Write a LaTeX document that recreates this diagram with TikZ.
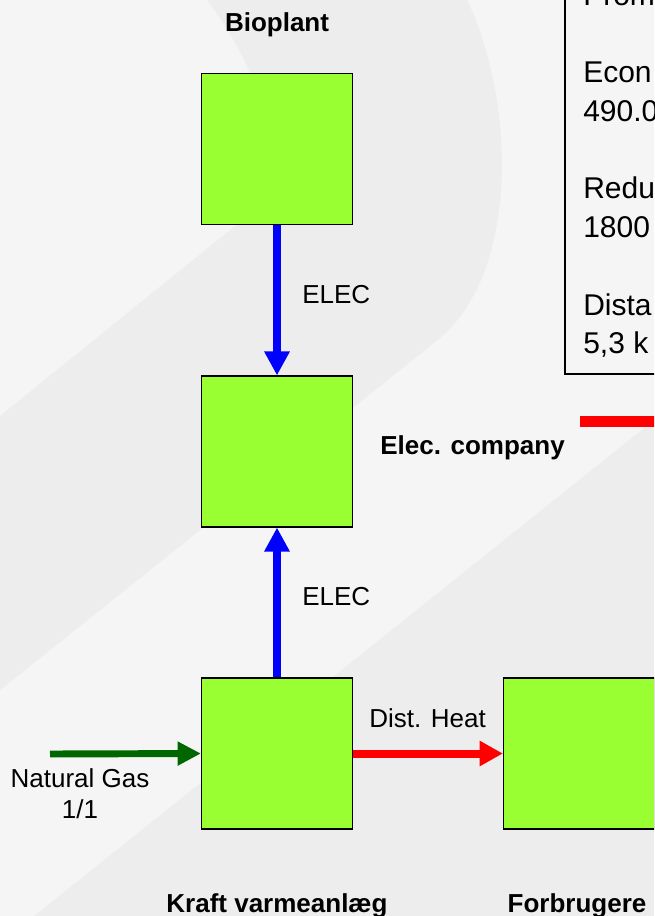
\documentclass[tikz,border=0pt]{standalone}
\usepackage{fontspec}
\setmainfont{Liberation Sans}
\usetikzlibrary{arrows.meta}
\definecolor{bgbase}{HTML}{F5F5F5}
\definecolor{bgdark}{HTML}{EDEDED}
\definecolor{boxgreen}{HTML}{99FF33}
\definecolor{gasgreen}{HTML}{006600}
\begin{document}
\begin{tikzpicture}[x=0.75pt,y=-0.75pt,
  plant/.style={draw=black, line width=1.1pt, fill=boxgreen, minimum width=113pt, minimum height=113pt, inner sep=0pt},
  lbl/.style={font=\fontsize{19.5}{23}\selectfont, inner sep=0pt},
  blbl/.style={font=\fontsize{19.5}{23}\selectfont\bfseries, inner sep=0pt},
  infotxt/.style={font=\fontsize{22.5}{27}\selectfont, inner sep=0pt, anchor=base west},
  bluearrow/.style={draw=blue, line width=6.4pt, -{Triangle[length=18pt,width=18pt]}},
  redarrow/.style={draw=red, line width=6pt, -{Triangle[length=17.5pt,width=18pt]}},
  gasarrow/.style={draw=gasgreen, line width=5.2pt, -{Triangle[length=17.5pt,width=17pt]}},
  redline/.style={draw=red, line width=8.5pt}
]
\useasboundingbox (0,0) rectangle (654,916);
\clip (0,0) rectangle (654,916);
% background
\fill[bgbase] (0,0) rectangle (654,916);
\fill[bgdark] (207,0) .. controls (245,50) and (300,150) .. (240,222) -- (0,416) -- (0,690) -- (440,338) .. controls (520,270) and (515,100) .. (467,0) -- cycle;
\fill[bgdark] (654,420) -- (34,916) -- (654,916) -- cycle;

% info box
\node (infobox) [draw=black, line width=1.5pt, anchor=south west, minimum width=90pt, minimum height=300pt, inner sep=0pt] at (564,375) {};
\node (t0) [infotxt] at (583,6) {Prom};
\node (t1) [infotxt] at (583,83) {Econ};
\node (t2) [infotxt] at (583,122) {490.0};
\node (t3) [infotxt] at (583,199) {Redu};
\node (t4) [infotxt] at (583,238) {1800};
\node (t5) [infotxt] at (583,315) {Dista};
\node (t6) [infotxt] at (583,353) {5,3 k};

% red line
\coordinate (rl0) at (580,421.5);
\coordinate (rl1) at (670,421.5);
\draw[redline] (rl0) -- (rl1);

% boxes
\node (bio) [plant] at (277,149) {};
\node (elec) [plant] at (277,451.5) {};
\node (kraft) [plant] at (277,753.5) {};
\node (forb) [plant] at (579,753.5) {};

% connectors
\draw[bluearrow] (bio.south) -- (elec.north);
\draw[bluearrow] (kraft.north) -- (elec.south);
\draw[redarrow] (kraft.east) -- (forb.west);
\coordinate (gasin) at (50,754);
\draw[gasarrow] (gasin) -- (kraft.west);

% labels
\node (lbio) [blbl, anchor=base] at (277,32) {Bioplant};
\node (lelec) [blbl, anchor=base west] at (380,454) {Elec. company};
\node (lkraft) [blbl, anchor=base] at (277,912) {Kraft varmeanlæg};
\node (lforb) [blbl, anchor=base] at (577,912) {Forbrugere};
\node (le1) [lbl, anchor=base west] at (302,303) {ELEC};
\node (le2) [lbl, anchor=base west] at (302,605) {ELEC};
\node (lheat) [lbl, anchor=base west] at (369,727) {Dist. Heat};
\node (lgas) [lbl, anchor=base] at (80,787) {Natural Gas};
\node (lgas2) [lbl, anchor=base] at (80,818) {1/1};
\end{tikzpicture}
\end{document}
